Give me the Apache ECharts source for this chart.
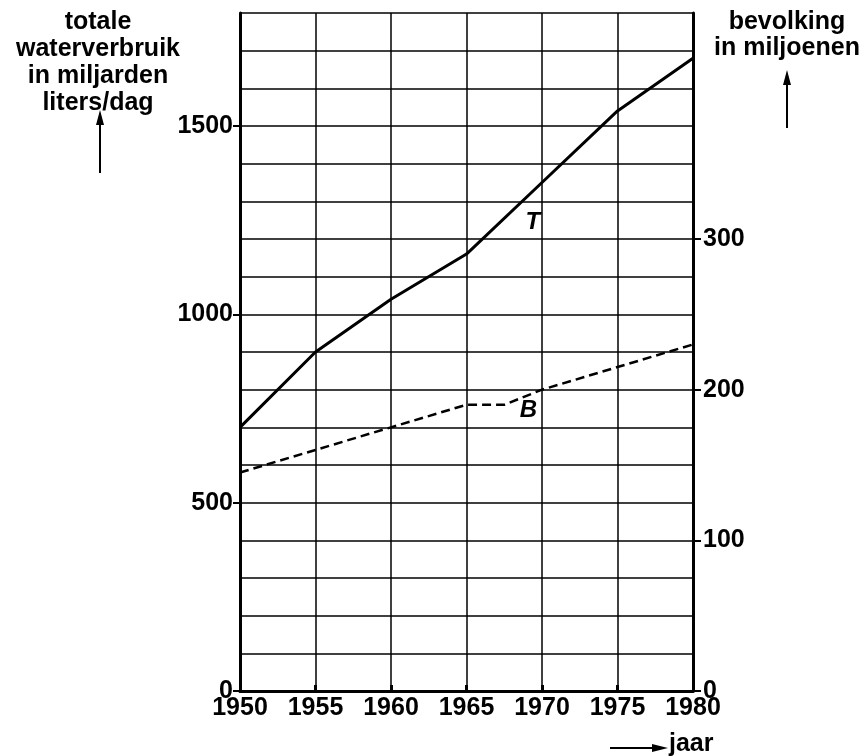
<!DOCTYPE html>
<html>
<head>
<meta charset="utf-8" />
<title>waterverbruik</title>
<script src="https://cdn.jsdelivr.net/npm/echarts@6/dist/echarts.min.js"></script>
<style>
  html, body { margin: 0; padding: 0; background: #fff; }
  #main { width: 866px; height: 756px; }
</style>
</head>
<body>
<div id="main"></div>
<script>
// data
var years = [1950, 1955, 1960, 1965, 1970, 1975, 1980];
var waterUse = [700, 900, 1040, 1160, 1350, 1540, 1680];      // T, miljarden liters/dag
var popYears = [1950, 1955, 1960, 1965, 1967.5, 1970, 1975, 1980];
var population = [145, 160, 175, 190, 190, 200, 215, 230];     // B, miljoenen
var leftLabels = [0, 500, 1000, 1500];
var rightLabels = [0, 100, 200, 300];

var font = '"Liberation Sans", Arial, sans-serif';
var plain = function (v) { return String(v); };

function pairs(xs, ys) {
  return xs.map(function (x, i) { return [x, ys[i]]; });
}

var chart = echarts.init(document.getElementById('main'));

chart.setOption({
  animation: false,
  backgroundColor: '#fff',
  textStyle: { fontFamily: font, color: '#000' },
  grid: { left: 240, right: 173, top: 13, bottom: 65 },
  xAxis: {
    type: 'value',
    min: 1950, max: 1980, interval: 5,
    axisLine: { lineStyle: { color: '#000', width: 3 } },
    axisTick: { show: true, inside: true, length: 6, lineStyle: { color: '#000', width: 3 } },
    axisLabel: { color: '#000', fontSize: 25, fontWeight: 'bold', fontFamily: font, margin: 5, formatter: plain },
    splitLine: { show: true, lineStyle: { color: '#000', width: 1.5 } }
  },
  yAxis: [{
    // grid lines every 100
    type: 'value',
    min: 0, max: 1800, interval: 100,
    axisLine: { show: true, lineStyle: { color: '#000', width: 3 } },
    axisTick: { show: false },
    axisLabel: { show: false },
    splitLine: { show: true, lineStyle: { color: '#000', width: 1.5 } }
  }, {
    type: 'value',
    position: 'right',
    min: 0, max: 450,
    axisLine: { show: true, lineStyle: { color: '#000', width: 3 } },
    axisTick: { show: true, length: 8, customValues: rightLabels, lineStyle: { color: '#000', width: 2 } },
    axisLabel: { color: '#000', fontSize: 25, fontWeight: 'bold', fontFamily: font, margin: 10, customValues: rightLabels, formatter: plain },
    splitLine: { show: false }
  }, {
    // labelled left axis
    type: 'value',
    position: 'left',
    min: 0, max: 1800,
    axisLine: { show: false },
    axisTick: { show: true, length: 7, customValues: leftLabels, lineStyle: { color: '#000', width: 2 } },
    axisLabel: { color: '#000', fontSize: 25, fontWeight: 'bold', fontFamily: font, margin: 7, customValues: leftLabels, formatter: plain },
    splitLine: { show: false }
  }],
  series: [{
    name: 'T',
    type: 'line',
    yAxisIndex: 0,
    data: pairs(years, waterUse),
    showSymbol: false,
    lineStyle: { color: '#000', width: 3 },
    markPoint: {
      symbol: 'circle', symbolSize: 1,
      itemStyle: { color: 'rgba(0,0,0,0)' },
      label: { show: true, position: 'inside', formatter: 'T', color: '#000', fontSize: 24, fontStyle: 'italic', fontWeight: 'bold', fontFamily: font },
      data: [{ coord: [1969.4, 1245] }]
    }
  }, {
    name: 'B',
    type: 'line',
    yAxisIndex: 1,
    data: pairs(popYears, population),
    showSymbol: false,
    lineStyle: { color: '#000', width: 2.5, type: [9, 5] },
    markPoint: {
      symbol: 'circle', symbolSize: 1,
      itemStyle: { color: 'rgba(0,0,0,0)' },
      label: { show: true, position: 'inside', formatter: 'B', color: '#000', fontSize: 24, fontStyle: 'italic', fontWeight: 'bold', fontFamily: font },
      data: [{ coord: [1969.1, 186] }]
    }
  }],
  graphic: [
    // left axis title + arrow
    { type: 'text', x: 98, y: 9, style: {
        text: 'totale\nwaterverbruik\nin miljarden\nliters/dag', align: 'center', verticalAlign: 'top',
        font: 'bold 25px ' + font, lineHeight: 27, fill: '#000' } },
    { type: 'line', shape: { x1: 100, y1: 173, x2: 100, y2: 122 }, style: { stroke: '#000', lineWidth: 2 } },
    { type: 'polygon', shape: { points: [[100, 110], [96, 125], [104, 125]] }, style: { fill: '#000' } },
    // right axis title + arrow
    { type: 'text', x: 787, y: 9, style: {
        text: 'bevolking\nin miljoenen', align: 'center', verticalAlign: 'top',
        font: 'bold 25px ' + font, lineHeight: 26, fill: '#000' } },
    { type: 'line', shape: { x1: 787, y1: 128, x2: 787, y2: 82 }, style: { stroke: '#000', lineWidth: 2 } },
    { type: 'polygon', shape: { points: [[787, 70], [783, 85], [791, 85]] }, style: { fill: '#000' } },
    // x axis title + arrow
    { type: 'line', shape: { x1: 610, y1: 748, x2: 654, y2: 748 }, style: { stroke: '#000', lineWidth: 2 } },
    { type: 'polygon', shape: { points: [[668, 748], [652, 744], [652, 752]] }, style: { fill: '#000' } },
    { type: 'text', x: 669, y: 732, style: { text: 'jaar', font: 'bold 25px ' + font, fill: '#000' } }
  ]
});

window.onresize = function () {
  chart.resize();
};
</script>
</body>
</html>
